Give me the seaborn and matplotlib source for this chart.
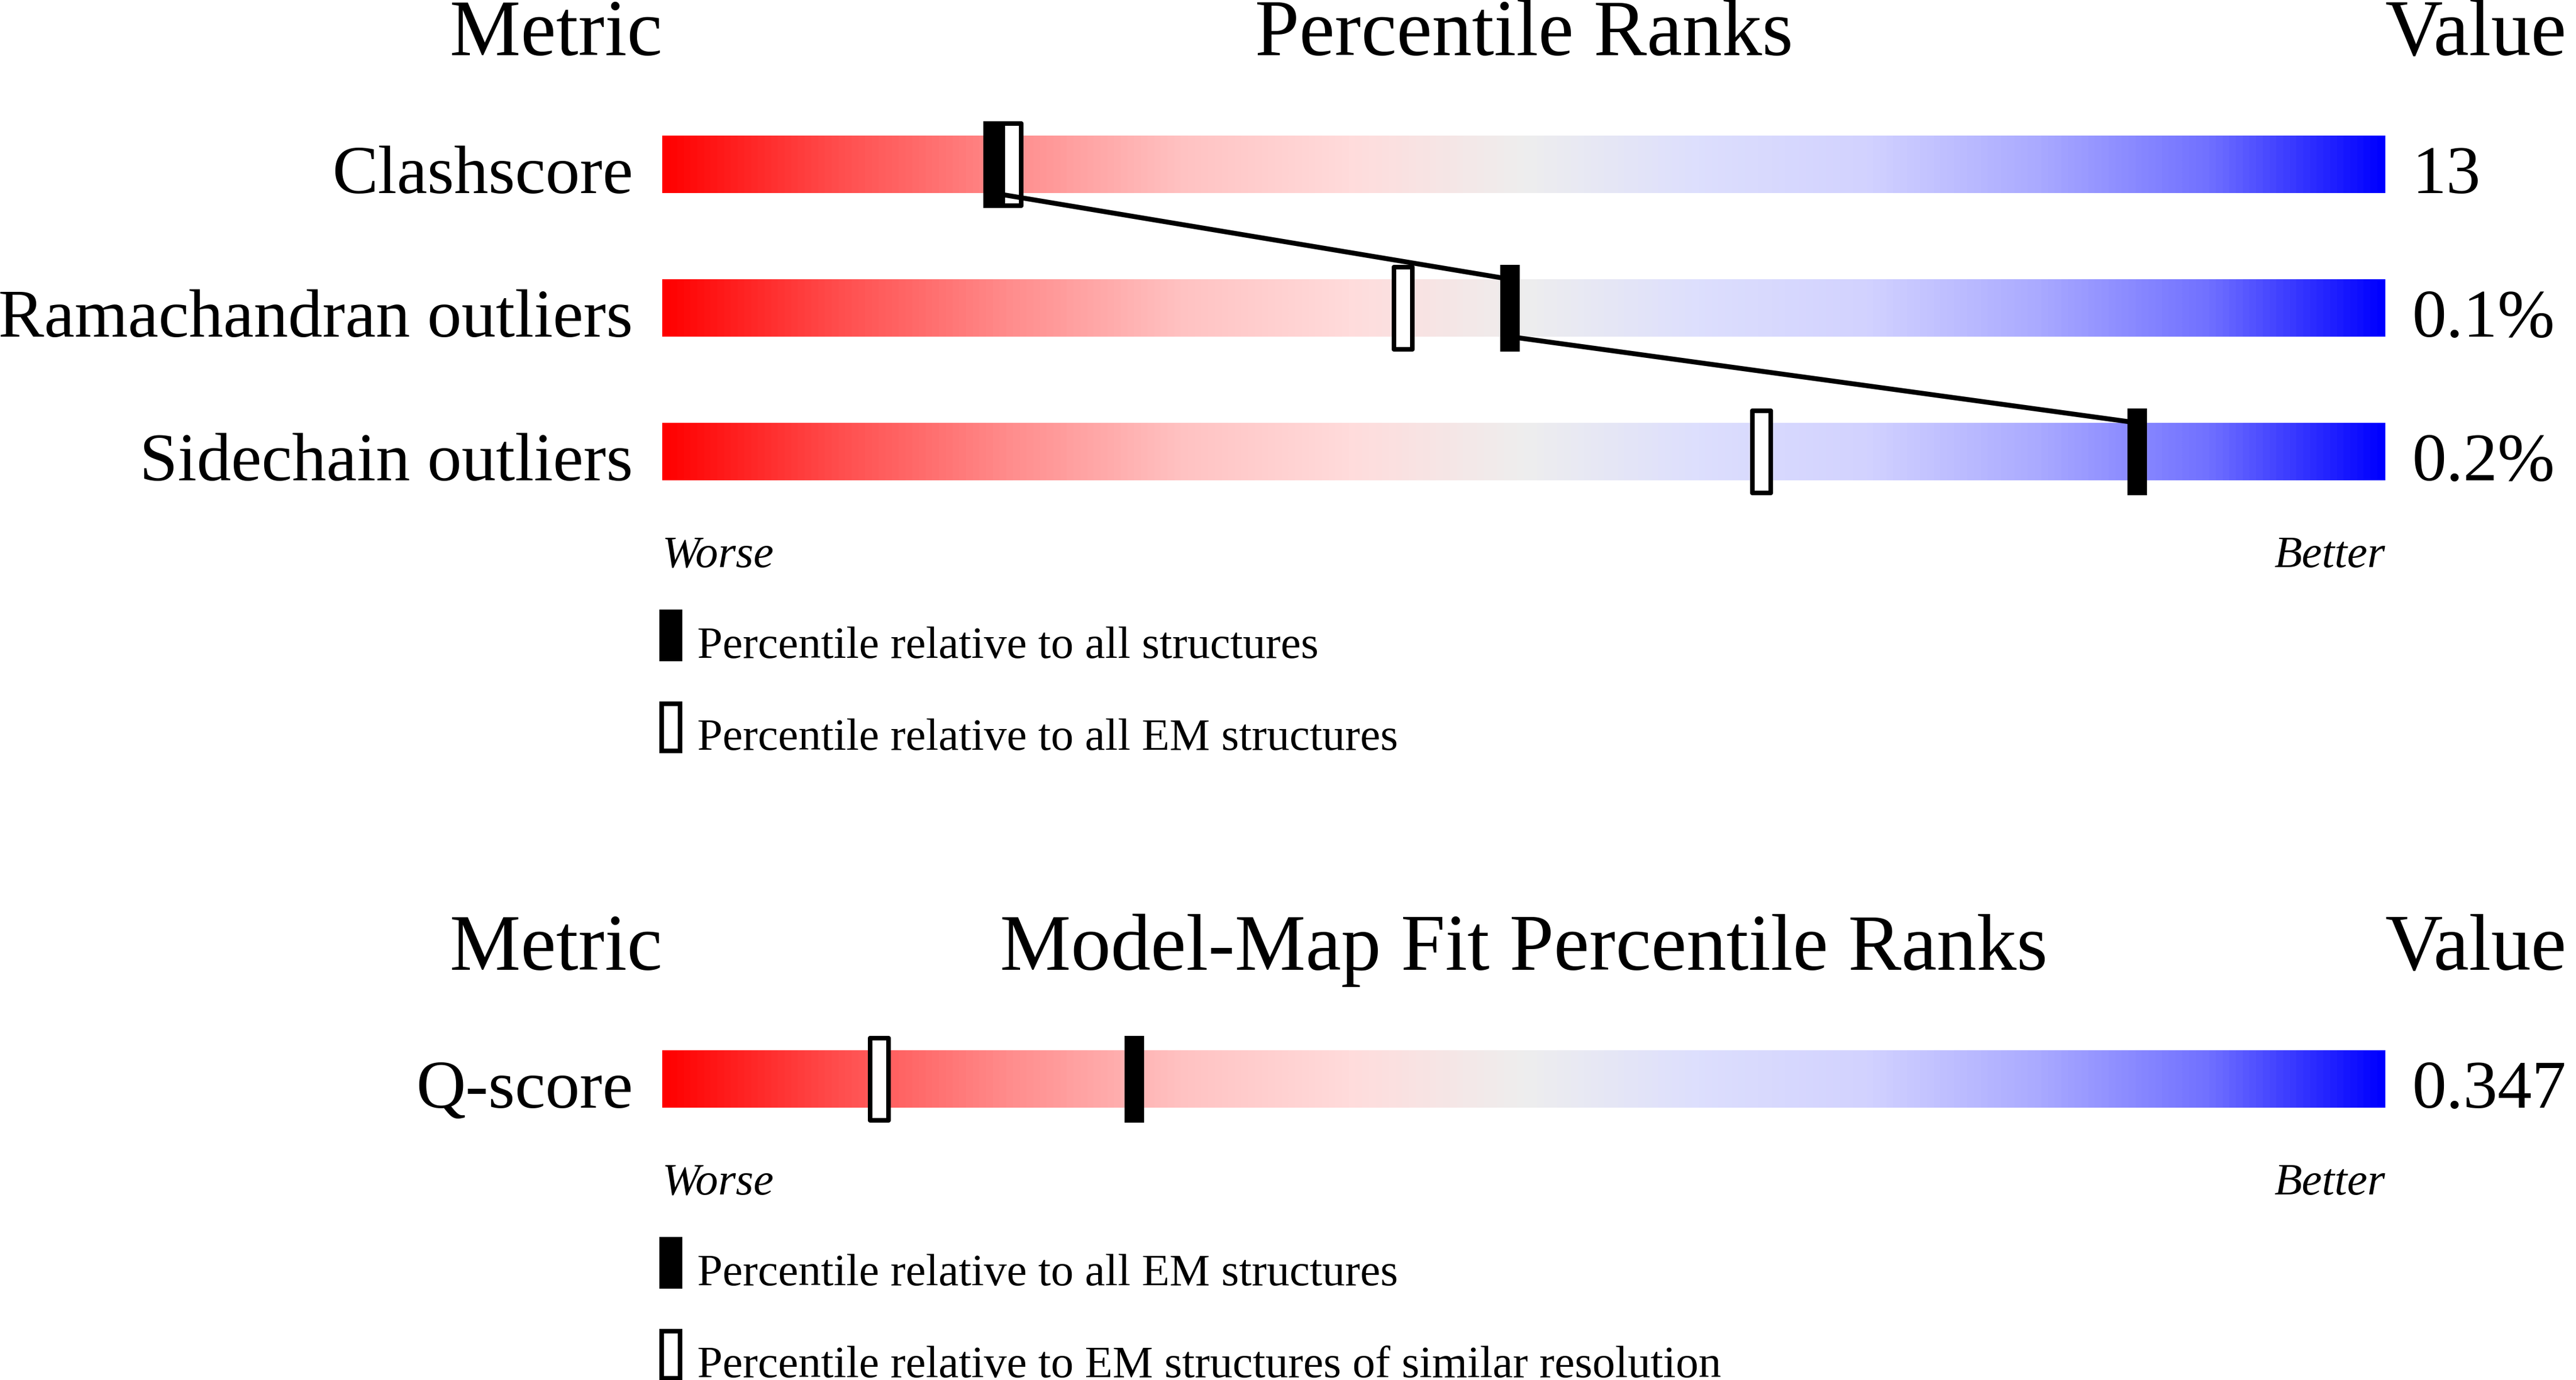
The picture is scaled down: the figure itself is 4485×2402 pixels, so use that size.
import numpy as np
import pandas as pd
import seaborn as sns
import matplotlib.pyplot as plt
from matplotlib.colors import LinearSegmentedColormap
from matplotlib.markers import MarkerStyle
from matplotlib.patches import Rectangle
from matplotlib.path import Path

# data
geom_metrics = ["Clashscore", "Ramachandran outliers", "Sidechain outliers"]
geom_values = ["13", "0.1%", "0.2%"]
geom_pct_all = [19.2, 49.2, 85.6]       # relative to all structures
geom_pct_em = [20.3, 43.0, 63.8]        # relative to all EM structures

fit_metrics = ["Q-score"]
fit_values = ["0.347"]
fit_pct_em = [27.4]                     # relative to all EM structures
fit_pct_res = [12.6]                    # EM structures of similar resolution

W, H = 4485, 2402
BAR_L, BAR_R = 1153, 4153
ROW = 250.0                             # pixels per row
PX = (BAR_R - BAR_L) / 100.0            # pixels per percentile unit

slider = LinearSegmentedColormap.from_list("slider", [
    (0.00, "#ff0000"), (0.10, "#ff4d4d"), (0.20, "#ff8c8c"),
    (0.30, "#ffc2c2"), (0.40, "#ffdcdc"), (0.50, "#eeeeee"),
    (0.60, "#dddffd"), (0.70, "#d2d2ff"), (0.80, "#aaaaff"),
    (0.90, "#7070ff"), (1.00, "#0000ff")])


def rect_marker(w, h):
    verts = [(-w, -h), (w, -h), (w, h), (-w, h), (-w, -h)]
    codes = [Path.MOVETO, Path.LINETO, Path.LINETO, Path.LINETO, Path.CLOSEPOLY]
    return MarkerStyle(Path(verts, codes), joinstyle="miter")


PT = 72.0 / 100.0                       # points per pixel at dpi 100
filled_marker = rect_marker(0.115, 0.5)  # 35 x 151 px
open_marker = rect_marker(0.113, 0.5)    # 32 x 143 px path + 8 px stroke


def panel(fig, top_px, title, metrics, values, pct_black, pct_open,
          legend_black, legend_open, connect):
    n = len(metrics)
    ax = fig.add_axes([BAR_L / W, 1 - (top_px + ROW * n) / H,
                       (BAR_R - BAR_L) / W, ROW * n / H])
    rows = np.arange(n)
    df = pd.DataFrame({"metric": metrics, "row": rows, "full": [100] * n,
                       "black": pct_black, "open": pct_open})

    sns.barplot(data=df, x="full", y="row", orient="h", native_scale=True,
                width=0.4, color="white", linewidth=0, ax=ax)
    grad = np.linspace(0, 1, 600)[None, :]
    for patch, r in zip(ax.patches, rows):
        im = ax.imshow(grad, cmap=slider, aspect="auto", zorder=1.5,
                       extent=[0, 100, r + 0.2, r - 0.2], interpolation="bilinear")
        im.set_clip_path(patch)

    sns.scatterplot(data=df, x="open", y="row", marker=open_marker,
                    s=(143 * PT) ** 2, color="white", edgecolor="black",
                    linewidth=8 * PT, zorder=3, legend=False, ax=ax)
    if connect:
        lx, ly = [], []
        for r, p in zip(rows, pct_black):
            if r > 0:
                lx.append(p)
                ly.append(r - 0.2)
            if r < n - 1:
                lx.append(p)
                ly.append(r + 0.2)
        sns.lineplot(x=lx, y=ly, sort=False, estimator=None, color="black",
                     linewidth=8.5 * PT, zorder=4, ax=ax)
    sns.scatterplot(data=df, x="black", y="row", marker=filled_marker,
                    s=(151 * PT) ** 2, color="black", linewidth=0,
                    zorder=5, legend=False, ax=ax)

    ax.set_xlim(0, 100)
    ax.set_ylim(n - 0.5, -0.5)
    ax.set_axis_off()

    # headers
    hy = -0.2 - 140 / ROW
    ax.text(0, hy, "Metric", ha="right", va="baseline", fontsize=100, clip_on=False)
    ax.text(50, hy, title, ha="center", va="baseline", fontsize=100, clip_on=False)
    ax.text(100, hy, "Value", ha="left", va="baseline", fontsize=100, clip_on=False)

    # metric names and values, baseline on the bar bottom
    for r, m, v in zip(rows, metrics, values):
        ax.text(-51 / PX, r + 0.2, m, ha="right", va="baseline", fontsize=86, clip_on=False)
        ax.text(100 + 47 / PX, r + 0.2, v, ha="left", va="baseline", fontsize=86, clip_on=False)

    base = n - 1 + 0.2
    ax.text(0, base + 151 / ROW, "Worse", ha="left", va="baseline",
            fontsize=57, fontstyle="italic", clip_on=False)
    ax.text(100, base + 151 / ROW, "Better", ha="right", va="baseline",
            fontsize=57, fontstyle="italic", clip_on=False)

    # key
    for k, (label, filled) in enumerate([(legend_black, True), (legend_open, False)]):
        ty = base + (309 + 160 * k) / ROW
        if filled:
            ax.add_patch(Rectangle((-5 / PX, ty - 84 / ROW), 40 / PX, 90 / ROW,
                                   facecolor="black", edgecolor="none", clip_on=False))
        else:
            ax.add_patch(Rectangle((-1 / PX, ty - 80 / ROW), 32 / PX, 82 / ROW,
                                   facecolor="white", edgecolor="black",
                                   linewidth=8 * PT, joinstyle="miter", clip_on=False))
        ax.text(61 / PX, ty, label, ha="left", va="baseline", fontsize=57, clip_on=False)
    return ax


sns.set_theme(style="white")
plt.rcParams["font.family"] = ["Liberation Serif", "DejaVu Serif"]
plt.rcParams["text.color"] = "black"

fig = plt.figure(figsize=(W / 100, H / 100), dpi=100, facecolor="white")

panel(fig, 161, "Percentile Ranks", geom_metrics, geom_values,
      geom_pct_all, geom_pct_em,
      "Percentile relative to all structures",
      "Percentile relative to all EM structures", connect=True)
panel(fig, 1753, "Model-Map Fit Percentile Ranks", fit_metrics, fit_values,
      fit_pct_em, fit_pct_res,
      "Percentile relative to all EM structures",
      "Percentile relative to EM structures of similar resolution", connect=False)

fig.savefig("out.png", dpi=100, facecolor="white")
